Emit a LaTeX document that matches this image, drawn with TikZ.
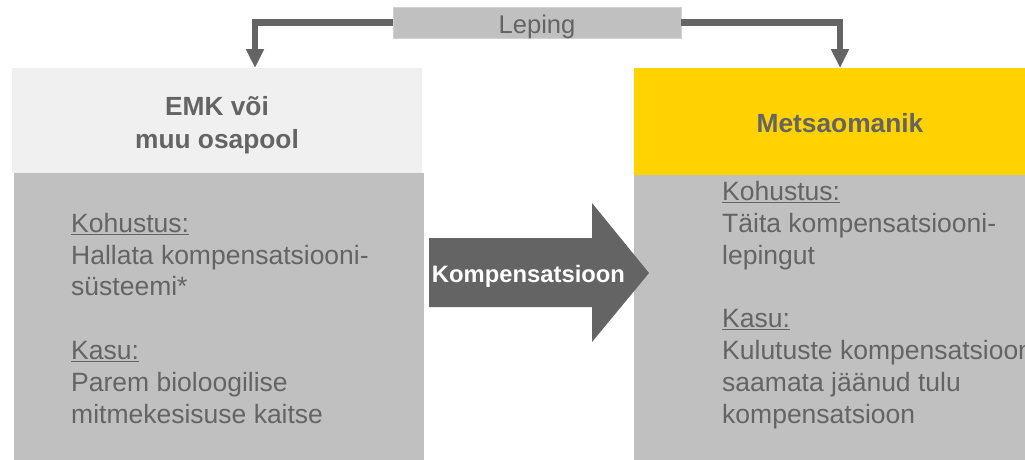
\documentclass[tikz,border=0pt]{standalone}
\usepackage{fontspec}
\setmainfont{Liberation Sans}
\usetikzlibrary{arrows.meta}
\definecolor{ink}{HTML}{646464}
\definecolor{txt}{HTML}{646464}
\definecolor{boxgray}{HTML}{C0C0C0}
\definecolor{lightbox}{HTML}{F0F0F0}
\definecolor{gold}{HTML}{FFD200}
\definecolor{lepedge}{HTML}{D2D2D2}
\tikzset{
  plainbox/.style={rectangle, inner sep=0pt, outer sep=0pt, draw=none},
  hdr/.style={inner sep=0pt, align=center, text=txt, font=\bfseries\fontsize{26.3}{33}\selectfont},
  bodytext/.style={inner sep=0pt, align=left, text=txt, font=\fontsize{26.5}{31.8}\selectfont},
  conn/.style={draw=ink, line width=6.5pt, line join=miter, -{Triangle[width=17pt,length=19pt]}},
}
\begin{document}
\begin{tikzpicture}[x=1pt,y=-1pt]
\clip (0,0) rectangle (1025,459);
\fill[white] (0,0) rectangle (1025,459);
% left party
\node[plainbox, fill=lightbox, minimum width=410pt, minimum height=105pt] (emkbox) at (217,120.5) {};
\node[plainbox, fill=boxgray, minimum width=410pt, minimum height=290pt] (emkbody) at (219,318) {};
\node[hdr, anchor=base] (emk) at (217,148) {EMK või\\muu osapool};
\node[bodytext, anchor=base west] (emktext) at (71,423) {\underline{Kohustus:}\\Hallata kompensatsiooni-\\süsteemi*\\[31.8pt]\underline{Kasu:}\\Parem bioloogilise\\mitmekesisuse kaitse};
% right party
\node[plainbox, fill=gold, minimum width=412pt, minimum height=107pt, text=txt, font=\bfseries\fontsize{26.3}{33}\selectfont, text height=24pt, text depth=3pt] (metsbox) at (840,121.5) {Metsaomanik};
\node[plainbox, fill=boxgray, minimum width=412pt, minimum height=290pt] (metsbody) at (840,320) {};
\node[bodytext, anchor=base west] (metstext) at (722,423) {\underline{Kohustus:}\\Täita kompensatsiooni-\\lepingut\\[31.8pt]\underline{Kasu:}\\Kulutuste kompensatsioon\\saamata jäänud tulu\\kompensatsioon};
% agreement
\node[plainbox, fill=boxgray, draw=lepedge, line width=1pt, minimum width=288pt, minimum height=31pt, text=txt, font=\fontsize{25.6}{30}\selectfont, text height=25pt, text depth=3pt] (lep) at (537,22.5) {Leping};
\draw[conn] (lep.west) -| ([xshift=38pt]emkbox.north);
\draw[conn] (lep.east) -| (metsbox.north);
% compensation arrow
\fill[ink] (429,238) -- (592,238) -- (592,203) -- (649,273) -- (592,342) -- (592,307) -- (429,307) -- cycle;
\node[inner sep=0pt, text=white, font=\bfseries\fontsize{23.8}{28}\selectfont, anchor=base] (komp) at (528.5,282) {Kompensatsioon};
\end{tikzpicture}
\end{document}
